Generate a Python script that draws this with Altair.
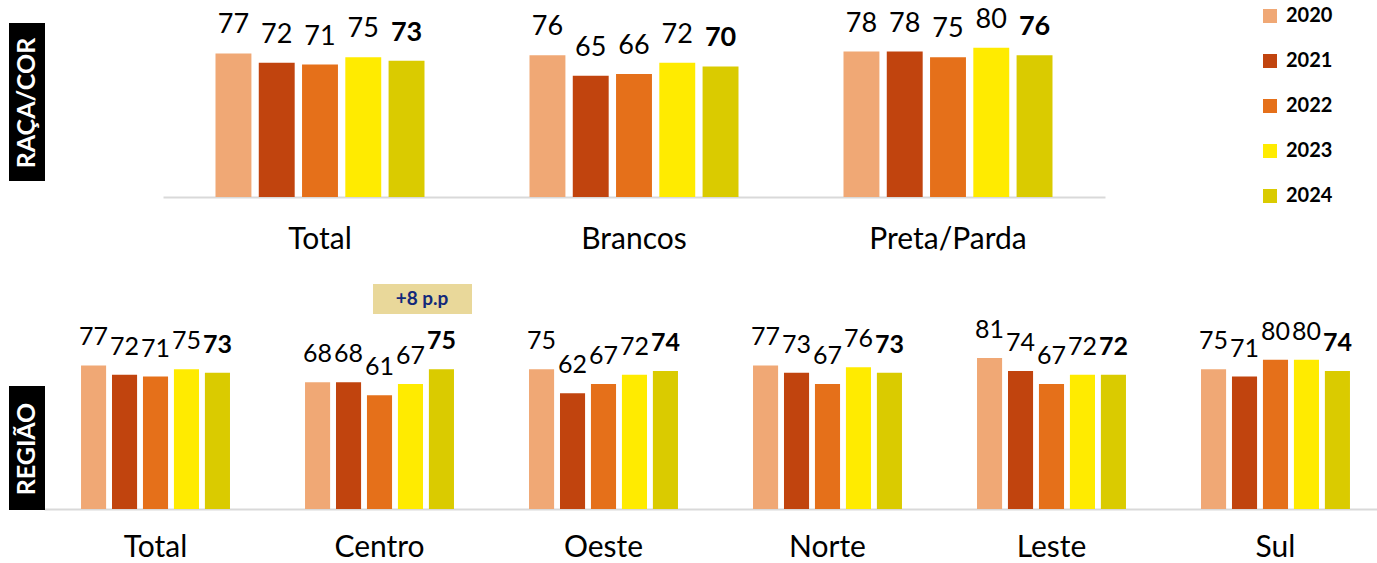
import altair as alt
import pandas as pd

# Series (years) and their colours
years = ["2020", "2021", "2022", "2023", "2024"]
year_colors = ["#F0A875", "#C1440E", "#E5701A", "#FFEB00", "#DACB00"]

# Race / colour block
raca_cats = ["Total", "Brancos", "Preta/Parda"]
raca_total = [77, 72, 71, 75, 73]
raca_brancos = [76, 65, 66, 72, 70]
raca_preta_parda = [78, 78, 75, 80, 76]

# Region block
regiao_cats = ["Total", "Centro", "Oeste", "Norte", "Leste", "Sul"]
regiao_total = [77, 72, 71, 75, 73]
regiao_centro = [68, 68, 61, 67, 75]
regiao_oeste = [75, 62, 67, 72, 74]
regiao_norte = [77, 73, 67, 76, 73]
regiao_leste = [81, 74, 67, 72, 72]
regiao_sul = [75, 71, 80, 80, 74]

PX_PER_POINT = 1.865
FONT = "Lato"


def to_long(cats, series):
    rows = []
    for cat, values in zip(cats, series):
        for ano, v in zip(years, values):
            rows.append({"cat": cat, "ano": ano, "valor": v})
    return pd.DataFrame(rows)


def side_tag(label, x0, x1, y0, y1):
    tag = pd.DataFrame({"t": [label]})
    box = alt.Chart(tag).mark_rect(color="#000000").encode(
        x=alt.value(x0), x2=alt.value(x1), y=alt.value(y0), y2=alt.value(y1)
    )
    txt = alt.Chart(tag).mark_text(
        font=FONT, fontSize=25, fontWeight="bold", color="#FFFFFF",
        angle=270, align="center", baseline="middle",
    ).encode(text="t:N", x=alt.value((x0 + x1) / 2), y=alt.value((y0 + y1) / 2 + 1))
    return box + txt


def panel(df, cats, x_scale, bar_pad, height, value_font, label_pad):
    x = alt.X(
        "cat:N", sort=cats, scale=x_scale,
        axis=alt.Axis(
            title=None, ticks=False, labelAngle=0, labelFont=FONT, labelFontSize=30,
            labelColor="#000000", labelPadding=label_pad, labelBaseline="alphabetic",
            domainColor="#D9D9D9", domainWidth=2,
        ),
    )
    xo = alt.XOffset("ano:N", sort=years, scale=alt.Scale(paddingInner=bar_pad, paddingOuter=0))
    y = alt.Y("valor:Q", scale=alt.Scale(domain=[0, height / PX_PER_POINT], nice=False), axis=None)
    color = alt.Color(
        "ano:N", sort=years,
        scale=alt.Scale(domain=years, range=year_colors),
        legend=alt.Legend(
            orient="none", legendX=1260, legendY=6, title=None, padding=0,
            symbolType="square", symbolSize=196, symbolStrokeWidth=0, symbolOpacity=1,
            labelFont=FONT, labelFontWeight="bold", labelFontSize=20, labelColor="#000000",
            labelOffset=6, rowPadding=25,
        ),
    )
    base = alt.Chart(df)
    bars = base.mark_bar().encode(x=x, xOffset=xo, y=y, color=color)
    labels = base.transform_filter(alt.datum.ano != "2024").mark_text(
        font=FONT, fontSize=value_font, color="#000000", baseline="alphabetic", dy=-20
    ).encode(x=x, xOffset=xo, y=y, text="valor:Q")
    labels_last = base.transform_filter(alt.datum.ano == "2024").mark_text(
        font=FONT, fontSize=value_font, fontWeight="bold", color="#000000",
        baseline="alphabetic", dy=-20,
    ).encode(x=x, xOffset=xo, y=y, text="valor:Q")
    return bars + labels + labels_last


raca_df = to_long(raca_cats, [raca_total, raca_brancos, raca_preta_parda])
regiao_df = to_long(
    regiao_cats,
    [regiao_total, regiao_centro, regiao_oeste, regiao_norte, regiao_leste, regiao_sul],
)

TOP_H = 197
GAP = 60
BOTTOM_H = 252

top_x = alt.Scale(range=[163, 1105], paddingInner=0.3344, paddingOuter=0.1672)
top = alt.layer(
    panel(raca_df, raca_cats, top_x, 0.17, TOP_H, 27, 51),
    side_tag("RAÇA/COR", 9, 45, 23, 181),
).properties(width=1377, height=TOP_H)

# Highlight of the change for the Centro region
note = pd.DataFrame({"t": ["+8 p.p"]})
note_box = alt.Chart(note).mark_rect(color="#E9D89A").encode(
    x=alt.value(373), x2=alt.value(472), y=alt.value(27), y2=alt.value(57)
)
note_txt = alt.Chart(note).mark_text(
    font=FONT, fontSize=19, fontWeight="bold", color="#13297A", align="center", baseline="middle"
).encode(text="t:N", x=alt.value(422), y=alt.value(42))

# Region axis runs to the right edge; the last group sits slightly inside it
bottom_x = alt.Scale(range=[44, 1377], paddingInner=0.335, paddingOuter=0.143, align=0.578)
bottom = alt.layer(
    panel(regiao_df, regiao_cats, bottom_x, 0.19, BOTTOM_H, 25, 47),
    side_tag("REGIÃO", 9, 45, 386 - TOP_H - GAP, 510 - TOP_H - GAP),
    note_box,
    note_txt,
).properties(width=1377, height=BOTTOM_H)

chart = (
    alt.vconcat(top, bottom, spacing=GAP, bounds="flush")
    .resolve_scale(xOffset="independent")
    .properties(padding=0, background="#FFFFFF")
    .configure_view(stroke=None)
)

chart.save("out.html", embed_options={"renderer": "svg", "actions": False})
